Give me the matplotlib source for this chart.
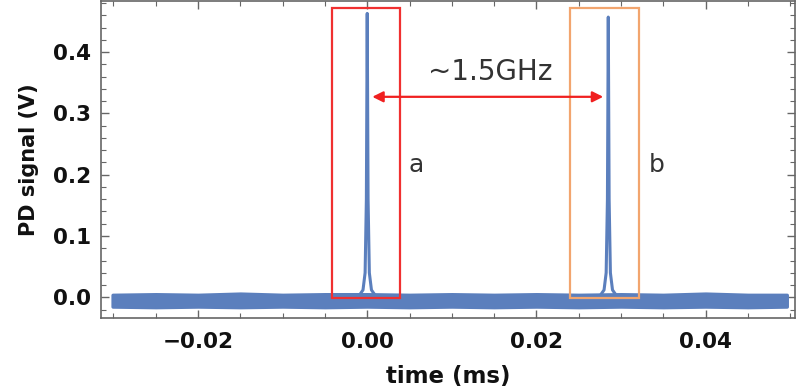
import matplotlib
matplotlib.use("Agg")
import matplotlib.pyplot as plt
from matplotlib.ticker import MultipleLocator
from matplotlib.patches import Rectangle

plt.rcParams['font.family'] = ['DejaVu Sans']

# Baseline noise band (envelope), time in ms, signal in V
base_x = [-0.0301, -0.025, -0.02, -0.015, -0.01, -0.005, 0.0, 0.005, 0.01, 0.015,
          0.02, 0.025, 0.03, 0.035, 0.04, 0.045, 0.0496]
base_hi = [0.004, 0.005, 0.004, 0.006, 0.004, 0.005, 0.005, 0.004, 0.005, 0.004,
           0.005, 0.004, 0.005, 0.004, 0.006, 0.004, 0.004]
base_lo = [-0.015, -0.016, -0.015, -0.016, -0.015, -0.016, -0.015, -0.016, -0.015,
           -0.016, -0.015, -0.016, -0.015, -0.016, -0.015, -0.016, -0.015]

# Peak a
peak_a_x = [-0.0020, -0.0010, -0.0005, -0.00025, -0.0001, 0.0, 0.0001, 0.00025, 0.0005, 0.0010, 0.0020]
peak_a_y = [-0.004, 0.002, 0.012, 0.04, 0.16, 0.463, 0.16, 0.04, 0.012, 0.002, -0.004]
# Peak b
peak_b_x = [0.0265, 0.0275, 0.0280, 0.02825, 0.0284, 0.0285, 0.0286, 0.02875, 0.0290, 0.0295, 0.0305]
peak_b_y = [-0.004, 0.002, 0.012, 0.04, 0.16, 0.457, 0.16, 0.04, 0.012, 0.002, -0.004]

box_a = (-0.0042, 0.0039, -0.0016, 0.472)
box_b = (0.0240, 0.0321, -0.0010, 0.472)
arrow_x = (0.0006, 0.0279)
arrow_y = 0.327
label_gap = "~1.5GHz"

blue = '#5B7FBD'
fig = plt.figure(figsize=(8, 3.88), dpi=100)
ax = fig.add_axes([0.126, 0.180, 0.868, 0.817])

ax.fill_between(base_x, base_lo, base_hi, color=blue, lw=2.5, edgecolor=blue, zorder=2)
ax.plot(peak_a_x, peak_a_y, color=blue, lw=2.2, zorder=3)
ax.plot(peak_b_x, peak_b_y, color=blue, lw=2.2, zorder=3)

ax.add_patch(Rectangle((box_a[0], box_a[2]), box_a[1] - box_a[0], box_a[3] - box_a[2],
                       fill=False, edgecolor='#F03030', lw=1.6, zorder=4))
ax.add_patch(Rectangle((box_b[0], box_b[2]), box_b[1] - box_b[0], box_b[3] - box_b[2],
                       fill=False, edgecolor='#F2A56E', lw=1.6, zorder=4))

ax.annotate('', xy=(arrow_x[0], arrow_y), xytext=(arrow_x[1], arrow_y),
            arrowprops=dict(arrowstyle='<|-|>', color='#F02020', lw=1.6,
                            mutation_scale=16, shrinkA=0, shrinkB=0), zorder=5)
ax.text(0.0146, 0.368, label_gap, fontsize=20, color='#333333', ha='center', va='center')
ax.text(0.0058, 0.215, 'a', fontsize=18, color='#333333', ha='center', va='center')
ax.text(0.0342, 0.215, 'b', fontsize=18, color='#333333', ha='center', va='center')

ax.set_xlim(-0.0315, 0.0506)
ax.set_ylim(-0.034, 0.483)
ax.xaxis.set_major_locator(MultipleLocator(0.02))
ax.xaxis.set_minor_locator(MultipleLocator(0.005))
ax.yaxis.set_major_locator(MultipleLocator(0.1))
ax.yaxis.set_minor_locator(MultipleLocator(0.02))
ax.xaxis.set_major_formatter(plt.FuncFormatter(lambda v, p: f"{v:.2f}".replace('-', '\u2212')))
ax.yaxis.set_major_formatter(plt.FuncFormatter(lambda v, p: f"{v:.1f}"))
ax.tick_params(which='both', direction='in', top=True, right=True, color='#666666')
ax.tick_params(which='major', length=6, width=1, labelsize=15.5)
ax.tick_params(axis='x', which='major', pad=10)
ax.tick_params(axis='y', which='major', pad=7)
ax.tick_params(which='minor', length=3.5, width=0.8)
for lab in ax.get_xticklabels() + ax.get_yticklabels():
    lab.set_fontweight('bold')
    lab.set_color('#111111')
for s in ax.spines.values():
    s.set_color('#666666')
    s.set_linewidth(1.2)

ax.set_xlabel('time (ms)', fontsize=16.5, fontweight='bold', labelpad=9, color='#111111')
ax.set_ylabel('PD signal (V)', fontsize=15, fontweight='bold', labelpad=10, color='#111111')

fig.savefig('out.png', dpi=100)
